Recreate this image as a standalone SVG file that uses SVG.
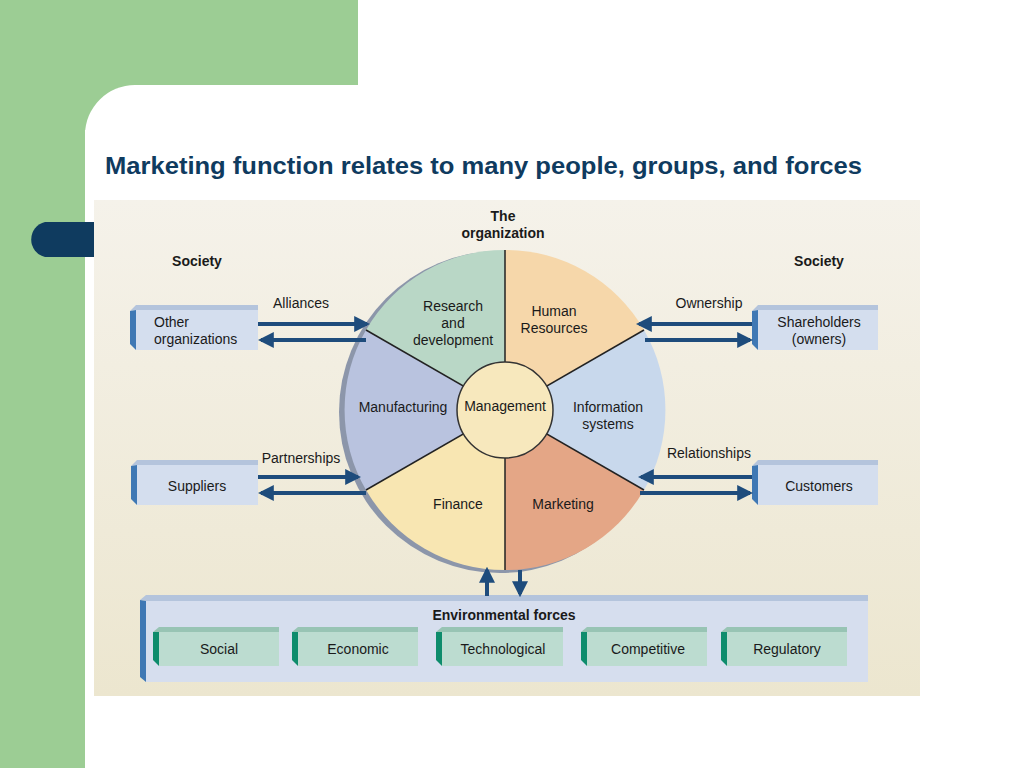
<svg xmlns="http://www.w3.org/2000/svg" width="1024" height="768" viewBox="0 0 1024 768">
<defs>
<style>
text{font-family:"Liberation Sans",Arial,sans-serif;fill:#1a1a1a;font-size:14px}
.b{font-weight:bold}
.box{fill:#d4deee}
.side{fill:#3f78b4}
.top{fill:#b4c4dc}
.gb{fill:#bcdcd0}
.gs{fill:#0e8c6c}
.gt{fill:#98c4b4}
.arr{stroke:#1e4c7c;stroke-width:4;fill:none}
.div{stroke:#222;stroke-width:1.5}
</style>
<marker id="ah" viewBox="0 0 10 10" refX="8" refY="5" markerWidth="4" markerHeight="4" orient="auto"><path d="M0,0L10,5L0,10z" fill="#1e4c7c"/></marker>
<linearGradient id="bg" x1="0" y1="0" x2="0" y2="1"><stop offset="0" stop-color="#f5f2ea"/><stop offset="1" stop-color="#ece6cf"/></linearGradient>
</defs>
<rect width="1024" height="768" fill="#fff"/>
<rect x="0" y="0" width="358" height="130" fill="#9ccd94"/>
<rect x="0" y="0" width="85" height="768" fill="#9ccd94"/>
<path d="M85,768V135A50,50 0 0 1 135,85H1024V768Z" fill="#fff"/>
<path d="M95,222H45A18,18 0 0 0 45,257H95Z" fill="#0f3b5f"/>
<text x="105" y="174" class="b" style="font-size:24px;fill:#0f3b5f" textLength="757" lengthAdjust="spacingAndGlyphs">Marketing function relates to many people, groups, and forces</text>
<rect x="94" y="200" width="826" height="496" fill="url(#bg)"/>
<text x="503" y="221" class="b" text-anchor="middle">The</text>
<text x="503" y="238" class="b" text-anchor="middle">organization</text>
<text x="197" y="266" class="b" text-anchor="middle">Society</text>
<text x="819" y="266" class="b" text-anchor="middle">Society</text>
<g id="wheel">
<circle cx="500" cy="412" r="161" fill="#8c96aa"/>
<path d="M505,410L505,250A160,160 0 0 0 366,330Z" fill="#b9d7c6"/>
<path d="M505,410L505,250A160,160 0 0 1 644,330Z" fill="#f6d7aa"/>
<path d="M505,410L644,330A160,160 0 0 1 644,490Z" fill="#c8d8ec"/>
<path d="M505,410L644,490A160,160 0 0 1 505,570Z" fill="#e4a686"/>
<path d="M505,410L505,570A160,160 0 0 1 366,490Z" fill="#f8e6b2"/>
<path d="M505,410L366,490A160,160 0 0 1 366,330Z" fill="#b9c3df"/>
<line class="div" x1="505" y1="250" x2="505" y2="570"/>
<line class="div" x1="366" y1="330" x2="644" y2="490"/>
<line class="div" x1="644" y1="330" x2="366" y2="490"/>
<circle cx="505" cy="410" r="48" fill="#f7e8bd" stroke="#333" stroke-width="1.5"/>
<text x="453" y="311" text-anchor="middle">Research</text>
<text x="453" y="328" text-anchor="middle">and</text>
<text x="453" y="345" text-anchor="middle">development</text>
<text x="554" y="316" text-anchor="middle">Human</text>
<text x="554" y="333" text-anchor="middle">Resources</text>
<text x="608" y="412" text-anchor="middle">Information</text>
<text x="608" y="429" text-anchor="middle">systems</text>
<text x="563" y="509" text-anchor="middle">Marketing</text>
<text x="458" y="509" text-anchor="middle">Finance</text>
<text x="403" y="412" text-anchor="middle">Manufacturing</text>
<text x="505" y="411" text-anchor="middle">Management</text>
</g>
<g id="other">
<path d="M130,311l6,-6h122v5H136z" class="top"/><rect x="136" y="310" width="122" height="40" class="box"/><path d="M130,311l6,-1v40l-6,-6z" class="side"/>
<text x="154" y="327">Other</text><text x="154" y="344">organizations</text></g>
<g id="share">
<path d="M752,311l6,-6h120v5H758z" class="top"/><rect x="758" y="310" width="120" height="40" class="box"/><path d="M752,311l6,-1v40l-6,-6z" class="side"/>
<text x="819" y="327" text-anchor="middle">Shareholders</text><text x="819" y="344" text-anchor="middle">(owners)</text></g>
<g id="suppliers">
<path d="M131,466l6,-6h121v5H137z" class="top"/><rect x="137" y="465" width="121" height="40" class="box"/><path d="M131,466l6,-1v40l-6,-6z" class="side"/>
<text x="197" y="491" text-anchor="middle">Suppliers</text></g>
<g id="customers">
<path d="M752,466l6,-6h120v5H758z" class="top"/><rect x="758" y="465" width="120" height="40" class="box"/><path d="M752,466l6,-1v40l-6,-6z" class="side"/>
<text x="819" y="491" text-anchor="middle">Customers</text></g>
<g id="env">
<path d="M140,600l6,-5h722v6H146z" class="top"/><rect x="146" y="601" width="722" height="81" fill="#d6deee"/><path d="M140,600l6,1v81l-6,-5z" class="side"/>
<text x="504" y="620" class="b" text-anchor="middle">Environmental forces</text>
<g id="social"><path d="M153,632l6,-5h120v5z" class="gt"/><rect x="159" y="632" width="120" height="34" class="gb"/><path d="M153,632l6,0v34l-6,-6z" class="gs"/><text x="219" y="654" text-anchor="middle">Social</text></g>
<g id="economic"><path d="M292,632l6,-5h120v5z" class="gt"/><rect x="298" y="632" width="120" height="34" class="gb"/><path d="M292,632l6,0v34l-6,-6z" class="gs"/><text x="358" y="654" text-anchor="middle">Economic</text></g>
<g id="tech"><path d="M436,632l6,-5h121v5z" class="gt"/><rect x="442" y="632" width="121" height="34" class="gb"/><path d="M436,632l6,0v34l-6,-6z" class="gs"/><text x="503" y="654" text-anchor="middle">Technological</text></g>
<g id="comp"><path d="M581,632l6,-5h120v5z" class="gt"/><rect x="587" y="632" width="120" height="34" class="gb"/><path d="M581,632l6,0v34l-6,-6z" class="gs"/><text x="648" y="654" text-anchor="middle">Competitive</text></g>
<g id="reg"><path d="M721,632l6,-5h120v5z" class="gt"/><rect x="727" y="632" width="120" height="34" class="gb"/><path d="M721,632l6,0v34l-6,-6z" class="gs"/><text x="787" y="654" text-anchor="middle">Regulatory</text></g>
</g>
<g id="connectors">
<line class="arr" x1="258" y1="324" x2="367" y2="324" marker-end="url(#ah)"/>
<line class="arr" x1="366" y1="340" x2="261" y2="340" marker-end="url(#ah)"/>
<line class="arr" x1="752" y1="324" x2="639" y2="324" marker-end="url(#ah)"/>
<line class="arr" x1="645" y1="340" x2="750" y2="340" marker-end="url(#ah)"/>
<line class="arr" x1="258" y1="477" x2="358" y2="477" marker-end="url(#ah)"/>
<line class="arr" x1="366" y1="493" x2="261" y2="493" marker-end="url(#ah)"/>
<line class="arr" x1="752" y1="477" x2="641" y2="477" marker-end="url(#ah)"/>
<line class="arr" x1="640" y1="493" x2="750" y2="493" marker-end="url(#ah)"/>
<line class="arr" x1="487" y1="596" x2="487" y2="570" marker-end="url(#ah)"/>
<line class="arr" x1="520" y1="570" x2="520" y2="594" marker-end="url(#ah)"/>
<text x="301" y="308" text-anchor="middle">Alliances</text>
<text x="709" y="308" text-anchor="middle">Ownership</text>
<text x="301" y="463" text-anchor="middle">Partnerships</text>
<text x="709" y="458" text-anchor="middle">Relationships</text>
</g>
</svg>
